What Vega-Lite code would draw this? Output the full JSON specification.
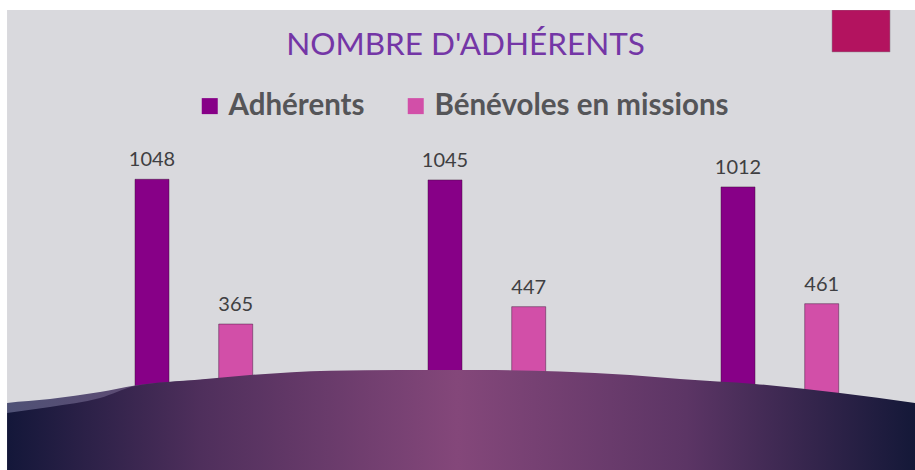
{
  "$schema": "https://vega.github.io/schema/vega-lite/v6.json",
  "width": 915,
  "height": 470,
  "autosize": {"type": "fit", "contains": "padding"},
  "padding": 0,
  "background": "#d9d9dd",
  "config": {"view": {"stroke": null}},
  "title": {
    "text": "NOMBRE D'ADHÉRENTS",
    "anchor": "middle",
    "frame": "group",
    "orient": "top",
    "offset": -86,
    "baseline": "alphabetic",
    "font": "Lato",
    "fontSize": 31.5,
    "fontWeight": 400,
    "color": "#7436a6",
    "dx": 8
  },
  "datasets": {
    "bars": [
      {"annee": "A", "serie": "Adhérents", "valeur": 1048},
      {"annee": "A", "serie": "Bénévoles en missions", "valeur": 365},
      {"annee": "B", "serie": "Adhérents", "valeur": 1045},
      {"annee": "B", "serie": "Bénévoles en missions", "valeur": 447},
      {"annee": "C", "serie": "Adhérents", "valeur": 1012},
      {"annee": "C", "serie": "Bénévoles en missions", "valeur": 461}
    ],
    "rim": [
      {"f": 0.0, "v": -12.3},
      {"f": 0.0077, "v": -7.6},
      {"f": 0.0546, "v": 11.3},
      {"f": 0.1093, "v": 44.4},
      {"f": 0.1475, "v": 75},
      {"f": 0.2186, "v": 101},
      {"f": 0.2732, "v": 118}
    ],
    "arch": [
      {"f": 0.0, "v": -59.5},
      {"f": 0.0077, "v": -54.7},
      {"f": 0.0546, "v": -26.4},
      {"f": 0.1093, "v": 16.0},
      {"f": 0.1475, "v": 72.7},
      {"f": 0.2186, "v": 103},
      {"f": 0.2732, "v": 124.6},
      {"f": 0.3607, "v": 144.9},
      {"f": 0.4372, "v": 148},
      {"f": 0.5246, "v": 148.2},
      {"f": 0.612, "v": 141.1},
      {"f": 0.6885, "v": 124.6},
      {"f": 0.7432, "v": 105.7},
      {"f": 0.8251, "v": 82.1},
      {"f": 0.918, "v": 39.6},
      {"f": 1.0, "v": -7.6}
    ],
    "carre": [
      {"f1": 0.9093, "f2": 0.9727, "v1": 1649, "v2": 1847}
    ],
    "cadre": [
      {"f1": 0, "f2": 1, "v1": 1847, "v2": 1894},
      {"f1": 0, "f2": 0.0077, "v1": -323.7, "v2": 1894}
    ]
  },
  "layer": [
    {
      "data": {"name": "bars"},
      "mark": {"type": "bar", "stroke": "#3a1035", "strokeWidth": 1, "strokeOpacity": 0.45},
      "encoding": {
        "x": {"field": "annee", "type": "nominal", "axis": null,
              "scale": {"type": "band", "paddingInner": 0.48805, "paddingOuter": 0.30546, "align": 0.664, "round": false}},
        "xOffset": {"field": "serie", "type": "nominal",
                    "scale": {"type": "band", "domain": ["Adhérents", "Bénévoles en missions"], "paddingInner": 0.5938, "paddingOuter": 0.193, "round": false}},
        "y": {"field": "valeur", "type": "quantitative", "axis": null,
              "scale": {"domain": [-323.7, 1894], "nice": false, "zero": false}},
        "y2": {"datum": 0},
        "color": {
          "field": "serie", "type": "nominal",
          "scale": {"domain": ["Adhérents", "Bénévoles en missions"], "range": ["#870087", "#d24fa8"]},
          "legend": {
            "orient": "none", "legendX": 195, "legendY": 91, "direction": "horizontal",
            "title": null, "symbolType": "square", "symbolSize": 256, "symbolStrokeWidth": 0,
            "labelFont": "Lato", "labelFontSize": 29.5, "labelFontWeight": "bold", "labelColor": "#555558",
            "labelOffset": 4, "columnPadding": 36, "padding": 0, "labelLimit": 600
          }
        }
      }
    },
    {
      "data": {"name": "bars"},
      "mark": {"type": "text", "dy": -13, "baseline": "alphabetic", "font": "Lato", "fontSize": 20, "color": "#3f3f42"},
      "encoding": {
        "x": {"field": "annee", "type": "nominal", "axis": null,
              "scale": {"type": "band", "paddingInner": 0.48805, "paddingOuter": 0.30546, "align": 0.664, "round": false}},
        "xOffset": {"field": "serie", "type": "nominal",
                    "scale": {"type": "band", "domain": ["Adhérents", "Bénévoles en missions"], "paddingInner": 0.5938, "paddingOuter": 0.193, "round": false}},
        "y": {"field": "valeur", "type": "quantitative", "axis": null,
              "scale": {"domain": [-323.7, 1894], "nice": false, "zero": false}},
        "text": {"field": "valeur", "type": "quantitative", "format": "d"}
      }
    },
    {
      "data": {"name": "rim"},
      "mark": {"type": "area", "interpolate": "monotone", "clip": true,
               "fill": {"gradient": "linear", "x1": 0, "x2": 1, "y1": 0, "y2": 0,
                        "stops": [{"offset": 0, "color": "#4e5276"}, {"offset": 1, "color": "#6a4470"}]}},
      "encoding": {
        "x": {"field": "f", "type": "quantitative", "axis": null, "scale": {"domain": [0, 1], "nice": false, "zero": false}},
        "y": {"field": "v", "type": "quantitative", "axis": null, "scale": {"domain": [-323.7, 1894], "nice": false, "zero": false}},
        "y2": {"datum": -323.7}
      }
    },
    {
      "data": {"name": "arch"},
      "mark": {"type": "area", "interpolate": "monotone", "clip": true,
               "fill": {"gradient": "linear", "x1": 0, "x2": 1, "y1": 0, "y2": 0,
                        "stops": [
                          {"offset": 0, "color": "#111638"},
                          {"offset": 0.22, "color": "#4f2f5c"},
                          {"offset": 0.5, "color": "#84477a"},
                          {"offset": 0.75, "color": "#5c3565"},
                          {"offset": 1, "color": "#141838"}
                        ]}},
      "encoding": {
        "x": {"field": "f", "type": "quantitative", "axis": null, "scale": {"domain": [0, 1], "nice": false, "zero": false}},
        "y": {"field": "v", "type": "quantitative", "axis": null, "scale": {"domain": [-323.7, 1894], "nice": false, "zero": false}},
        "y2": {"datum": -323.7}
      }
    },
    {
      "data": {"name": "carre"},
      "mark": {"type": "rect", "color": "#b3135f", "stroke": "#8a8a90", "strokeWidth": 1, "strokeOpacity": 0.5},
      "encoding": {
        "x": {"field": "f1", "type": "quantitative", "axis": null, "scale": {"domain": [0, 1], "nice": false, "zero": false}},
        "x2": {"field": "f2"},
        "y": {"field": "v1", "type": "quantitative", "axis": null, "scale": {"domain": [-323.7, 1894], "nice": false, "zero": false}},
        "y2": {"field": "v2"}
      }
    },
    {
      "data": {"name": "cadre"},
      "mark": {"type": "rect", "color": "#ffffff", "clip": true},
      "encoding": {
        "x": {"field": "f1", "type": "quantitative", "axis": null, "scale": {"domain": [0, 1], "nice": false, "zero": false}},
        "x2": {"field": "f2"},
        "y": {"field": "v1", "type": "quantitative", "axis": null, "scale": {"domain": [-323.7, 1894], "nice": false, "zero": false}},
        "y2": {"field": "v2"}
      }
    }
  ],
  "resolve": {"scale": {"x": "independent", "xOffset": "independent"}}
}
